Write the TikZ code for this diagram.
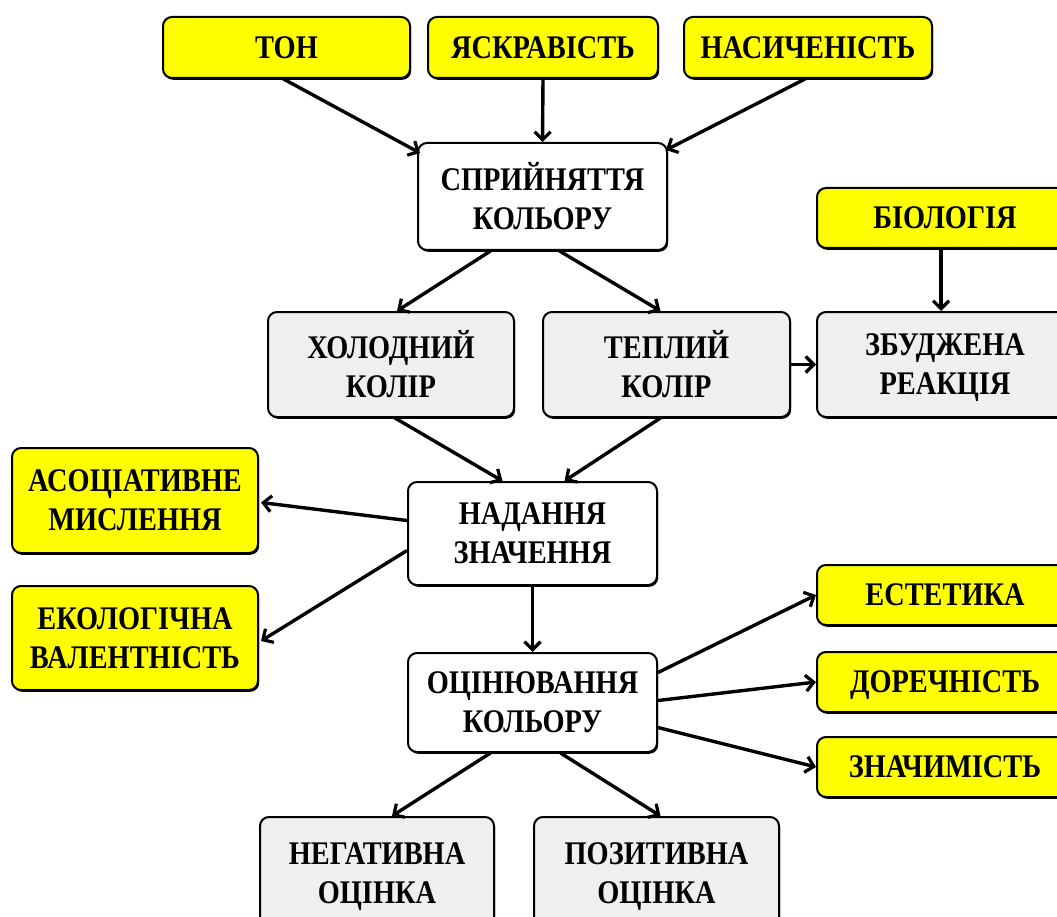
\documentclass[tikz,border=0pt]{standalone}
\usepackage{amsmath}
\usepackage{fontspec}
\setmainfont{Liberation Serif}[FakeStretch=0.86]
\usetikzlibrary{arrows.meta,shadows,calc}
\definecolor{boxyellow}{HTML}{FFFF00}
\definecolor{boxgray}{HTML}{EFEFEF}
\newcommand{\nodesc}[1]{\smash[b]{#1}}
\tikzset{
  box/.style={draw=black, line width=2pt, rounded corners=9pt, align=center,
    font=\bfseries\fontsize{33}{39}\selectfont, inner sep=0pt,
    drop shadow={shadow xshift=1.2pt, shadow yshift=-1.8pt, fill=black, opacity=1}},
  ybox/.style={box, fill=boxyellow},
  gbox/.style={box, fill=boxgray},
  wbox/.style={box, fill=white},
  arr/.style={line width=3.4pt, -{Straight Barb[length=8pt,width=16pt,line width=3.2pt]}},
}
\begin{document}
\begin{tikzpicture}[x=1pt,y=-1pt]
\useasboundingbox[fill=white] (0,0) rectangle (1057,917);
% top row
\node[ybox, minimum width=247pt, minimum height=61pt] (ton) at (286.5,47.5) {ТОН};
\node[ybox, minimum width=230pt, minimum height=61pt] (yas) at (543,47.5) {ЯСКРАВІСТЬ};
\node[ybox, minimum width=248pt, minimum height=61pt] (nas) at (808,47.5) {НАСИЧЕНІСТЬ};
% perception
\node[wbox, minimum width=249pt, minimum height=107pt] (spr) at (542.5,196.5) {СПРИЙНЯТТЯ\\КОЛЬОРУ};
\node[ybox, minimum width=256pt, minimum height=60pt] (bio) at (945,218) {БІОЛОГІЯ};
% second row
\node[gbox, minimum width=246pt, minimum height=105pt] (hol) at (391,364.5) {ХОЛОДНИЙ\\КОЛІР};
\node[gbox, minimum width=247pt, minimum height=105pt] (tep) at (666.5,364.5) {ТЕПЛИЙ\\КОЛІР};
\node[gbox, minimum width=256pt, minimum height=105pt] (zbu) at (945,364.5) {ЗБУДЖЕНА\\\nodesc{РЕАКЦІЯ}};
% meaning
\node[wbox, minimum width=249pt, minimum height=103pt] (nad) at (532.5,533.5) {НАДАННЯ\\ЗНАЧЕННЯ};
\node[ybox, minimum width=246pt, minimum height=105pt] (aso) at (135,500.5) {АСОЦІАТИВНЕ\\МИСЛЕННЯ};
\node[ybox, minimum width=246pt, minimum height=104pt] (eko) at (135,638) {ЕКОЛОГІЧНА\\ВАЛЕНТНІСТЬ};
% evaluation
\node[wbox, minimum width=249pt, minimum height=99pt] (oci) at (532.5,702.5) {ОЦІНЮВАННЯ\\КОЛЬОРУ};
\node[ybox, minimum width=256pt, minimum height=60pt] (est) at (945,595) {ЕСТЕТИКА};
\node[ybox, minimum width=256pt, minimum height=60pt] (dor) at (945,682) {\nodesc{ДОРЕЧНІСТЬ}};
\node[ybox, minimum width=256pt, minimum height=60pt] (zna) at (945,767) {ЗНАЧИМІСТЬ};
\node[gbox, minimum width=234pt, minimum height=112pt] (neg) at (377,873) {НЕГАТИВНА\\\nodesc{ОЦІНКА}};
\node[gbox, minimum width=245pt, minimum height=112pt] (poz) at (656.5,873) {ПОЗИТИВНА\\\nodesc{ОЦІНКА}};
% arrows
\draw[arr] ([xshift=-3pt]ton.south) -- ([xshift=3pt,yshift=-11pt]spr.north west);
\draw[arr] (yas.south) -- (spr.north);
\draw[arr] ([xshift=-3pt]nas.south) -- ([xshift=-2pt,yshift=-8pt]spr.north east);
\draw[arr] ([xshift=-52pt]spr.south) -- ([xshift=6pt]hol.north);
\draw[arr] ([xshift=17pt]spr.south) -- ([xshift=-6pt]tep.north);
\draw[arr] ([xshift=-4pt]bio.south) -- ([xshift=-4pt]zbu.north);
\draw[arr] (tep.east) -- (zbu.west);
\draw[arr] ([xshift=4pt]hol.south) -- ([xshift=-30pt]nad.north);
\draw[arr] ([xshift=-6pt]tep.south) -- ([xshift=32pt]nad.north);
\draw[arr] ([yshift=13pt]nad.west) -- ([xshift=2pt,yshift=-2pt]aso.east);
\draw[arr] ([yshift=-17pt]nad.west) -- ([xshift=2pt,yshift=-3pt]eko.east);
\draw[arr] (nad.south) -- (oci.north);
\draw[arr] ([yshift=30pt]oci.east) -- (est.west);
\draw[arr] ([yshift=2pt]oci.east) -- (dor.west);
\draw[arr] ([yshift=-25pt]oci.east) -- (zna.west);
\draw[arr] ([xshift=-42pt]oci.south) -- ([xshift=15pt]neg.north);
\draw[arr] ([xshift=28pt]oci.south) -- ([xshift=4pt]poz.north);
\end{tikzpicture}
\end{document}
